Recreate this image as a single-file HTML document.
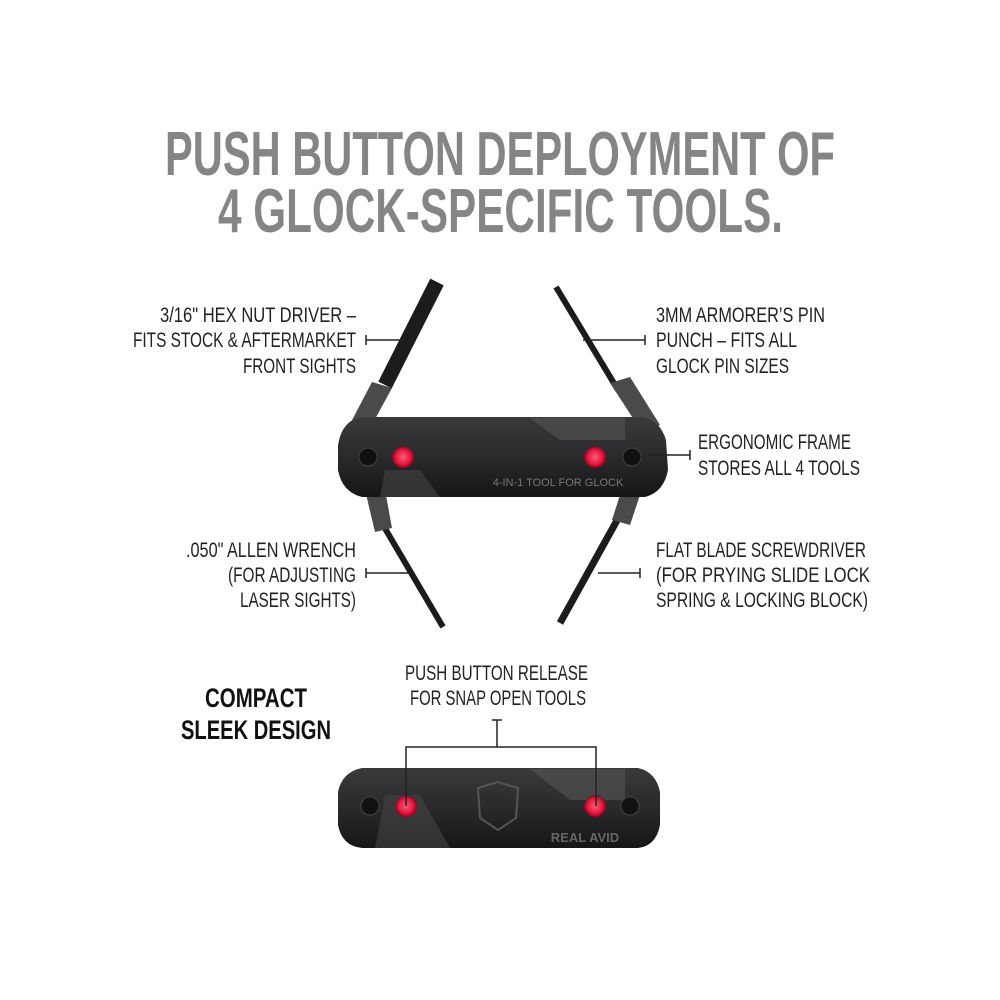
<!DOCTYPE html>
<html><head><meta charset="utf-8"><style>
html,body{margin:0;padding:0;background:#fff}
svg{display:block}
text{font-family:"Liberation Sans Narrow","Liberation Sans",sans-serif}
.t{fill:#858585;font-weight:bold;font-size:62px}
.l{fill:#222;font-size:21px}
</style></head><body>
<svg width="1000" height="1000" viewBox="0 0 1000 1000" xmlns="http://www.w3.org/2000/svg">
<defs>
<linearGradient id="bg" x1="0" y1="0" x2="0" y2="1">
<stop offset="0" stop-color="#3a3a3c"/><stop offset="0.5" stop-color="#2a2a2c"/><stop offset="1" stop-color="#161617"/></linearGradient>
<radialGradient id="rb"><stop offset="0" stop-color="#ff5a78"/><stop offset="0.7" stop-color="#e0153c"/><stop offset="1" stop-color="#7a0a1e"/></radialGradient>
</defs>
<text class="t" x="165" y="175" textLength="670" lengthAdjust="spacingAndGlyphs">PUSH BUTTON DEPLOYMENT OF</text>
<text class="t" x="218" y="232" textLength="565" lengthAdjust="spacingAndGlyphs">4 GLOCK-SPECIFIC TOOLS.</text>

<g class="l" text-anchor="end">
<text x="356" y="322" textLength="196" lengthAdjust="spacingAndGlyphs">3/16" HEX NUT DRIVER –</text>
<text x="356" y="347" textLength="223" lengthAdjust="spacingAndGlyphs">FITS STOCK &amp; AFTERMARKET</text>
<text x="356" y="373" textLength="113" lengthAdjust="spacingAndGlyphs">FRONT SIGHTS</text>
<text x="356" y="557" textLength="170" lengthAdjust="spacingAndGlyphs">.050" ALLEN WRENCH</text>
<text x="356" y="582" textLength="128" lengthAdjust="spacingAndGlyphs">(FOR ADJUSTING</text>
<text x="356" y="607" textLength="116" lengthAdjust="spacingAndGlyphs">LASER SIGHTS)</text>
</g>
<g class="l">
<text x="656" y="322" textLength="169" lengthAdjust="spacingAndGlyphs">3MM ARMORER’S PIN</text>
<text x="656" y="347" textLength="141" lengthAdjust="spacingAndGlyphs">PUNCH – FITS ALL</text>
<text x="656" y="373" textLength="133" lengthAdjust="spacingAndGlyphs">GLOCK PIN SIZES</text>
<text x="698" y="449" textLength="153" lengthAdjust="spacingAndGlyphs">ERGONOMIC FRAME</text>
<text x="698" y="475" textLength="162" lengthAdjust="spacingAndGlyphs">STORES ALL 4 TOOLS</text>
<text x="656" y="557" textLength="210" lengthAdjust="spacingAndGlyphs">FLAT BLADE SCREWDRIVER</text>
<text x="656" y="582" textLength="214" lengthAdjust="spacingAndGlyphs">(FOR PRYING SLIDE LOCK</text>
<text x="656" y="607" textLength="212" lengthAdjust="spacingAndGlyphs">SPRING &amp; LOCKING BLOCK)</text>
<text x="405" y="680" textLength="183" lengthAdjust="spacingAndGlyphs">PUSH BUTTON RELEASE</text>
<text x="410" y="705" textLength="176" lengthAdjust="spacingAndGlyphs">FOR SNAP OPEN TOOLS</text>
</g>
<text x="205" y="707" textLength="102" lengthAdjust="spacingAndGlyphs" style="font-weight:bold;font-size:27px;fill:#111">COMPACT</text>
<text x="181" y="739" textLength="150" lengthAdjust="spacingAndGlyphs" style="font-weight:bold;font-size:27px;fill:#111">SLEEK DESIGN</text>

<line x1="437" y1="282" x2="385" y2="385" stroke="#1c1c1c" stroke-width="15"/>
<polygon points="372,382 392,388 368,432 350,424" fill="#4a4a4c"/>
<line x1="556" y1="287" x2="618" y2="390" stroke="#1c1c1c" stroke-width="6"/>
<polygon points="610,383 630,377 660,425 642,432" fill="#4a4a4c"/>
<line x1="443" y1="627" x2="383" y2="525" stroke="#1c1c1c" stroke-width="6"/>
<polygon points="365,490 385,490 392,528 375,532" fill="#4a4a4c"/>
<line x1="560" y1="623" x2="620" y2="515" stroke="#1c1c1c" stroke-width="7"/>
<polygon points="620,495 640,495 630,525 612,520" fill="#4a4a4c"/>
<path d="M362,417 L642,417 Q660,420 666,440 L668,470 Q664,492 645,497 L362,497 Q342,492 338,470 L338,445 Q342,420 362,417 Z" fill="url(#bg)"/>
<polygon points="530,418 625,418 625,440 560,440" fill="#555" opacity="0.6"/>
<polygon points="385,470 420,470 440,497 380,497" fill="#444" opacity="0.6"/>
<circle cx="368" cy="457" r="9" fill="#111" stroke="#444"/>
<circle cx="632" cy="457" r="9" fill="#111" stroke="#444"/>
<circle cx="403" cy="457" r="11" fill="url(#rb)"/>
<circle cx="595" cy="457" r="11" fill="url(#rb)"/>
<text x="558" y="486" text-anchor="middle" style="font-size:11px;fill:#777">4-IN-1 TOOL FOR GLOCK</text>

<g stroke="#222" stroke-width="1.5">
<line x1="366" y1="340" x2="405" y2="340"/><line x1="366" y1="335" x2="366" y2="345"/>
<line x1="583" y1="340" x2="645" y2="340"/><line x1="645" y1="335" x2="645" y2="345"/>
<line x1="648" y1="455" x2="690" y2="455"/><line x1="690" y1="450" x2="690" y2="460"/>
<line x1="366" y1="573" x2="408" y2="573"/><line x1="366" y1="568" x2="366" y2="578"/>
<line x1="598" y1="573" x2="640" y2="573"/><line x1="640" y1="568" x2="640" y2="578"/>
</g>

<path d="M362,768 L638,768 Q656,772 660,792 L660,825 Q656,846 638,848 L362,848 Q342,846 338,825 L338,792 Q342,772 362,768 Z" fill="url(#bg)"/>
<polygon points="530,769 625,769 625,800 570,800" fill="#555" opacity="0.6"/>
<polygon points="385,795 420,795 450,848 375,848" fill="#444" opacity="0.6"/>
<path d="M478,788 L498,782 L518,788 L516,818 L498,830 L480,818 Z" fill="none" stroke="#555" stroke-width="2"/>
<text x="585" y="842" text-anchor="middle" style="font-size:13px;font-weight:bold;fill:#666">REAL AVID</text>
<circle cx="370" cy="806" r="9" fill="#111" stroke="#444"/>
<circle cx="630" cy="806" r="9" fill="#111" stroke="#444"/>
<circle cx="406" cy="806" r="11" fill="url(#rb)"/>
<circle cx="595" cy="806" r="11" fill="url(#rb)"/>
<g stroke="#222" stroke-width="1.5" fill="none">
<line x1="497" y1="720" x2="497" y2="747"/><line x1="492" y1="720" x2="502" y2="720"/>
<polyline points="406,806 406,747 596,747 596,806"/>
</g>
</svg>
</body></html>
